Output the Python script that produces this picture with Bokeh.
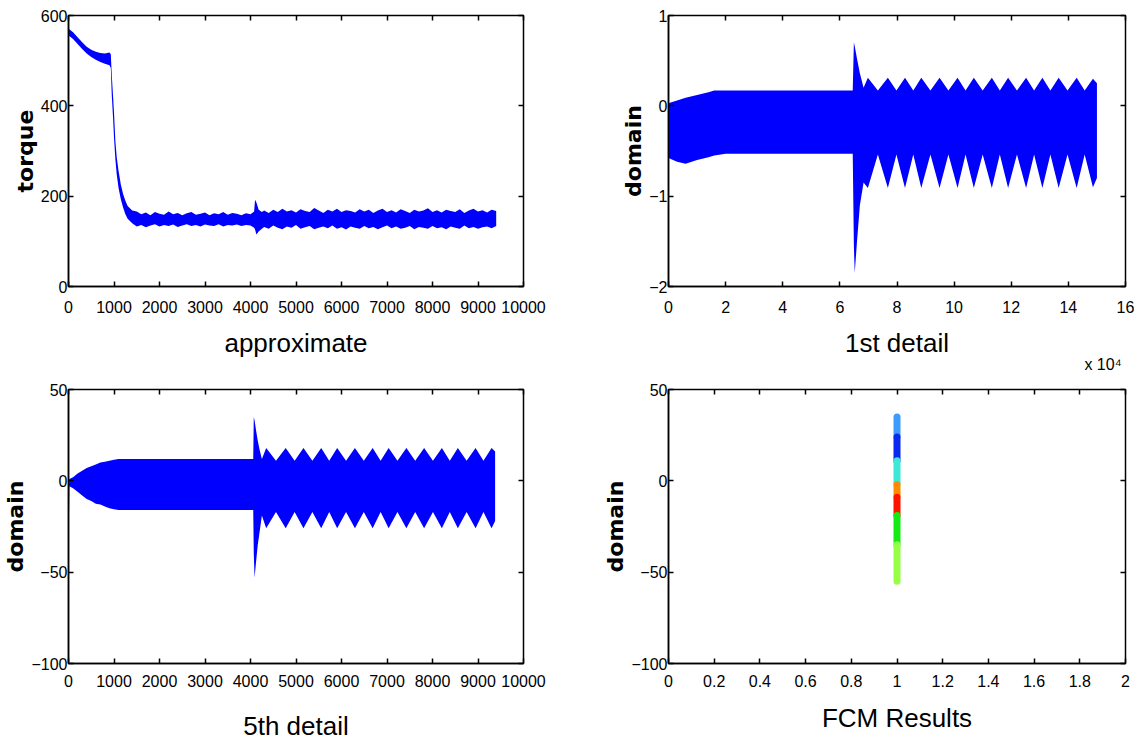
from bokeh.plotting import figure
from bokeh.models import LinearAxis, FixedTicker, Title, NumeralTickFormatter
from bokeh.layouts import gridplot
from bokeh.embed import file_html
from bokeh.resources import INLINE

# ---------------- data ----------------
# approximate (torque) : envelope of the noisy trace
approx_x = [0, 10, 100, 200, 300, 400, 500, 600, 700, 800, 900,
            930, 950, 980, 1000, 1030, 1060, 1100, 1150, 1200, 1250, 1300, 1400,
            1500, 1600, 1700, 1800, 1900, 2000, 2100, 2200, 2300, 2400, 2500, 2600, 2700,
            2800, 2900, 3000, 3100, 3200, 3300, 3400, 3500, 3600, 3700, 3800, 3900, 4000,
            4080, 4100, 4130, 4180, 4250,
            4300, 4400, 4500, 4600, 4700, 4800, 4900, 5000, 5100, 5200,
            5300, 5400, 5500, 5600, 5700, 5800, 5900, 6000, 6100, 6200,
            6300, 6400, 6500, 6600, 6700, 6800, 6900, 7000, 7100, 7200,
            7300, 7400, 7500, 7600, 7700, 7800, 7900, 8000, 8100, 8200,
            8300, 8400, 8500, 8600, 8700, 8800, 8900, 9000, 9100, 9200,
            9300, 9400]
approx_lo = [70, 555, 548, 537, 526, 516, 508, 502, 497, 493, 490,
             484, 425, 372, 330, 282, 248, 218, 193, 175, 160, 150, 140,
             133, 136, 131, 135, 138, 133, 136, 134, 137, 132, 135, 138, 134,
             136, 133, 137, 135, 134, 138, 133, 136, 135, 137, 134, 136, 135,
             130, 126, 115, 122, 128,
             132, 128, 135, 130, 127, 133, 130, 136, 128, 131,
             134, 127, 130, 133, 129, 135, 128, 131, 126, 133,
             130, 128, 134, 129, 132, 127, 131, 135, 129, 133,
             128, 130, 134, 127, 132, 130, 128, 134, 129, 131,
             127, 133, 130, 128, 135, 129, 132, 128, 131, 133,
             129, 134]
approx_hi = [572, 570, 563, 552, 541, 531, 524, 520, 517, 516, 518,
             514, 470, 420, 385, 322, 286, 256, 226, 205, 190, 178, 168,
             166, 160, 164, 158, 165, 161, 159, 166, 160, 163, 158, 162, 165,
             159, 161, 164, 158, 162, 160, 165, 159, 163, 161, 158, 162, 160,
             166, 192, 186, 170, 165,
             168, 163, 170, 165, 172, 166, 169, 164, 171, 167,
             165, 174, 168, 163, 170, 166, 172, 165, 169, 167,
             164, 171, 166, 170, 163, 168, 172, 165, 169, 164,
             171, 167, 163, 170, 166, 168, 173, 165, 169, 164,
             170, 167, 165, 171, 163, 168, 172, 166, 169, 164,
             170, 167]

# 1st detail (x in units of 1e4)
d1_x = [0, 0.02, 0.3, 0.6, 1.0, 1.4, 1.6,
        2.0, 3.0, 4.0, 5.0, 6.0, 6.45,
        6.49, 6.52, 6.6, 6.7, 6.83,
        6.98, 7.33, 7.68, 7.98, 8.28, 8.57, 8.85, 9.17, 9.49, 9.8,
        10.12, 10.4, 10.69, 11.0, 11.32, 11.6, 11.89, 12.2, 12.52, 12.8,
        13.09, 13.37, 13.66, 13.97, 14.29, 14.57, 14.86, 15.0]
d1_hi = [0.0, 0.03, 0.06, 0.09, 0.12, 0.15, 0.17,
         0.17, 0.17, 0.17, 0.17, 0.17, 0.17,
         0.70, 0.66, 0.52, 0.36, 0.20,
         0.31, 0.17, 0.31, 0.17, 0.31, 0.17, 0.31, 0.17, 0.31, 0.17,
         0.31, 0.17, 0.31, 0.17, 0.31, 0.17, 0.31, 0.17, 0.31, 0.17,
         0.31, 0.17, 0.31, 0.17, 0.31, 0.17, 0.30, 0.25]
d1_lo = [-0.30, -0.58, -0.62, -0.64, -0.60, -0.57, -0.55,
         -0.53, -0.53, -0.53, -0.53, -0.53, -0.53,
         -1.55, -1.85, -1.50, -1.10, -0.85,
         -0.91, -0.54, -0.91, -0.54, -0.91, -0.54, -0.91, -0.54, -0.91, -0.54,
         -0.91, -0.54, -0.91, -0.54, -0.91, -0.54, -0.91, -0.54, -0.91, -0.54,
         -0.91, -0.54, -0.91, -0.54, -0.91, -0.54, -0.90, -0.80]

# 5th detail
d5_x = [0, 20, 100, 200, 300, 400, 500, 600, 700, 800, 900, 1000, 1100,
        2000, 3000, 4060,
        4072, 4090, 4120, 4160, 4200, 4250,
        4345, 4560, 4774, 4970, 5164, 5360, 5554, 5730, 5905, 6100,
        6295, 6490, 6685, 6860, 7036, 7230, 7426, 7620, 7816, 8010,
        8206, 8380, 8557, 8750, 8947, 9120, 9298, 9376]
d5_hi = [0, 1, 2, 4, 5.5, 7, 8, 9, 10, 10.5, 11, 11.5, 12,
         12, 12, 12,
         35, 33, 28, 22, 17, 12,
         18, 11, 18, 11, 18, 11, 18, 11, 18, 11,
         18, 11, 18, 11, 18, 11, 18, 11, 18, 11,
         18, 11, 18, 11, 18, 11, 18, 16]
d5_lo = [-38, -3, -4, -6, -8, -10, -11, -12.5, -13, -14, -15, -15.5, -16,
         -16, -16, -16,
         -40, -53, -45, -35, -28, -19,
         -26, -17, -26, -17, -26, -17, -26, -17, -26, -17,
         -26, -17, -26, -17, -26, -17, -26, -17, -26, -17,
         -26, -17, -26, -17, -26, -17, -26, -22]

# FCM clusters (x position, y extent, colour)
fcm_x = [1, 1, 1, 1, 1, 1, 1]
fcm_lo = [24, 11, -2, -9, -19, -35, -55]
fcm_hi = [35, 24, 11, -2, -9, -19, -35]
fcm_color = ["#3d9bff", "#0a28f0", "#3de8d8", "#ff8c00", "#ff1400", "#14ea14", "#96ff46"]

# ticks
approx_xticks = list(range(0, 10001, 1000))
approx_yticks = [0, 200, 400, 600]
d1_xticks = [0, 2, 4, 6, 8, 10, 12, 14, 16]
d1_yticks = [-2, -1, 0, 1]
d5_yticks = [-100, -50, 0, 50]
fcm_xticks = [0, 0.2, 0.4, 0.6, 0.8, 1.0, 1.2, 1.4, 1.6, 1.8, 2.0]
d1_scale_text = "x 10\u2074"

# ---------------- styling ----------------
TICK_FONT = "Liberation Sans"
LABEL_FONT = "DejaVu Sans"
BLUE = "#0000ff"


def panel(width, height, xr, yr, xt, yt, bl, br, bt, bb, xlabel, ylabel,
          xtstand, xstand, ystand):
    p = figure(width=width, height=height, x_range=xr, y_range=yr,
               output_backend="svg", toolbar_location=None,
               min_border_left=bl, min_border_right=br,
               min_border_top=bt, min_border_bottom=bb,
               background_fill_color="white", border_fill_color="white")
    p.xgrid.visible = False
    p.ygrid.visible = False
    p.outline_line_color = "black"
    p.outline_line_width = 1.5
    p.xaxis.ticker = FixedTicker(ticks=xt)
    p.yaxis.ticker = FixedTicker(ticks=yt)
    for ax in (p.xaxis[0], p.yaxis[0]):
        ax.major_tick_in = 5
        ax.major_tick_out = 0
        ax.minor_tick_line_color = None
        ax.axis_line_width = 1.5
        ax.axis_line_color = "black"
        ax.major_tick_line_width = 1.5
        ax.major_tick_line_color = "black"
        ax.major_label_text_font = TICK_FONT
        ax.major_label_text_font_size = "16px"
        ax.major_label_text_color = "black"
    p.xaxis.major_label_standoff = xtstand
    p.yaxis.major_label_standoff = 1
    p.xaxis.axis_label = xlabel
    p.xaxis.axis_label_text_font = TICK_FONT
    p.xaxis.axis_label_text_font_size = "26px"
    p.xaxis.axis_label_text_font_style = "normal"
    p.xaxis.axis_label_text_color = "black"
    p.xaxis.axis_label_standoff = xstand
    p.yaxis.axis_label = ylabel
    p.yaxis.axis_label_text_font = LABEL_FONT
    p.yaxis.axis_label_text_font_size = "22px"
    p.yaxis.axis_label_text_font_style = "bold"
    p.yaxis.axis_label_text_color = "black"
    p.yaxis.axis_label_standoff = ystand
    top = LinearAxis(ticker=FixedTicker(ticks=xt), major_tick_in=5, major_tick_out=0,
                     major_label_text_font_size="1px", major_label_text_color=None,
                     major_label_standoff=0,
                     axis_line_color=None, minor_tick_line_color=None,
                     major_tick_line_width=1.5, major_tick_line_color="black")
    right = LinearAxis(ticker=FixedTicker(ticks=yt), major_tick_in=5, major_tick_out=0,
                       major_label_text_font_size="1px", major_label_text_color=None,
                       major_label_standoff=0,
                       axis_line_color=None, minor_tick_line_color=None,
                       major_tick_line_width=1.5, major_tick_line_color="black")
    p.add_layout(top, "above")
    p.add_layout(right, "right")
    return p


# top-left: approximate
p1 = panel(568, 374, (0, 10000), (0, 600), approx_xticks, approx_yticks,
           66, 45, 13, 88, "approximate", "torque", 14, 12, 0)
p1.varea(x=approx_x, y1=approx_lo, y2=approx_hi, fill_color=BLUE)

# top-right: 1st detail
p2 = panel(569, 374, (0, 16), (-2, 1), d1_xticks, d1_yticks,
           100, 12, 15, 88, "1st detail", "domain", 14, 12, 0)
p2.varea(x=d1_x, y1=d1_lo, y2=d1_hi, fill_color=BLUE)
p2.add_layout(Title(text=d1_scale_text, align="right", text_font=TICK_FONT,
                    text_font_size="16px", text_font_style="normal",
                    text_color="black", standoff=-24, offset=4), "below")

# bottom-left: 5th detail
p3 = panel(568, 375, (0, 10000), (-100, 50), approx_xticks, d5_yticks,
           65, 45, 15, 86, "5th detail", "domain", 11, 21, 0)
p3.varea(x=d5_x, y1=d5_lo, y2=d5_hi, fill_color=BLUE)

# bottom-right: FCM results
p4 = panel(569, 375, (0, 2), (-100, 50), fcm_xticks, d5_yticks,
           100, 12, 15, 86, "FCM Results", "domain", 11, 13, 0)
p4.xaxis[0].formatter = NumeralTickFormatter(format="0.[0]")
p4.segment(x0=fcm_x, y0=fcm_lo, x1=fcm_x, y1=fcm_hi, line_color=fcm_color,
           line_width=7, line_cap="round")

grid = gridplot([[p1, p2], [p3, p4]], toolbar_location=None)

open("out.html", "w").write(file_html(grid, INLINE))
